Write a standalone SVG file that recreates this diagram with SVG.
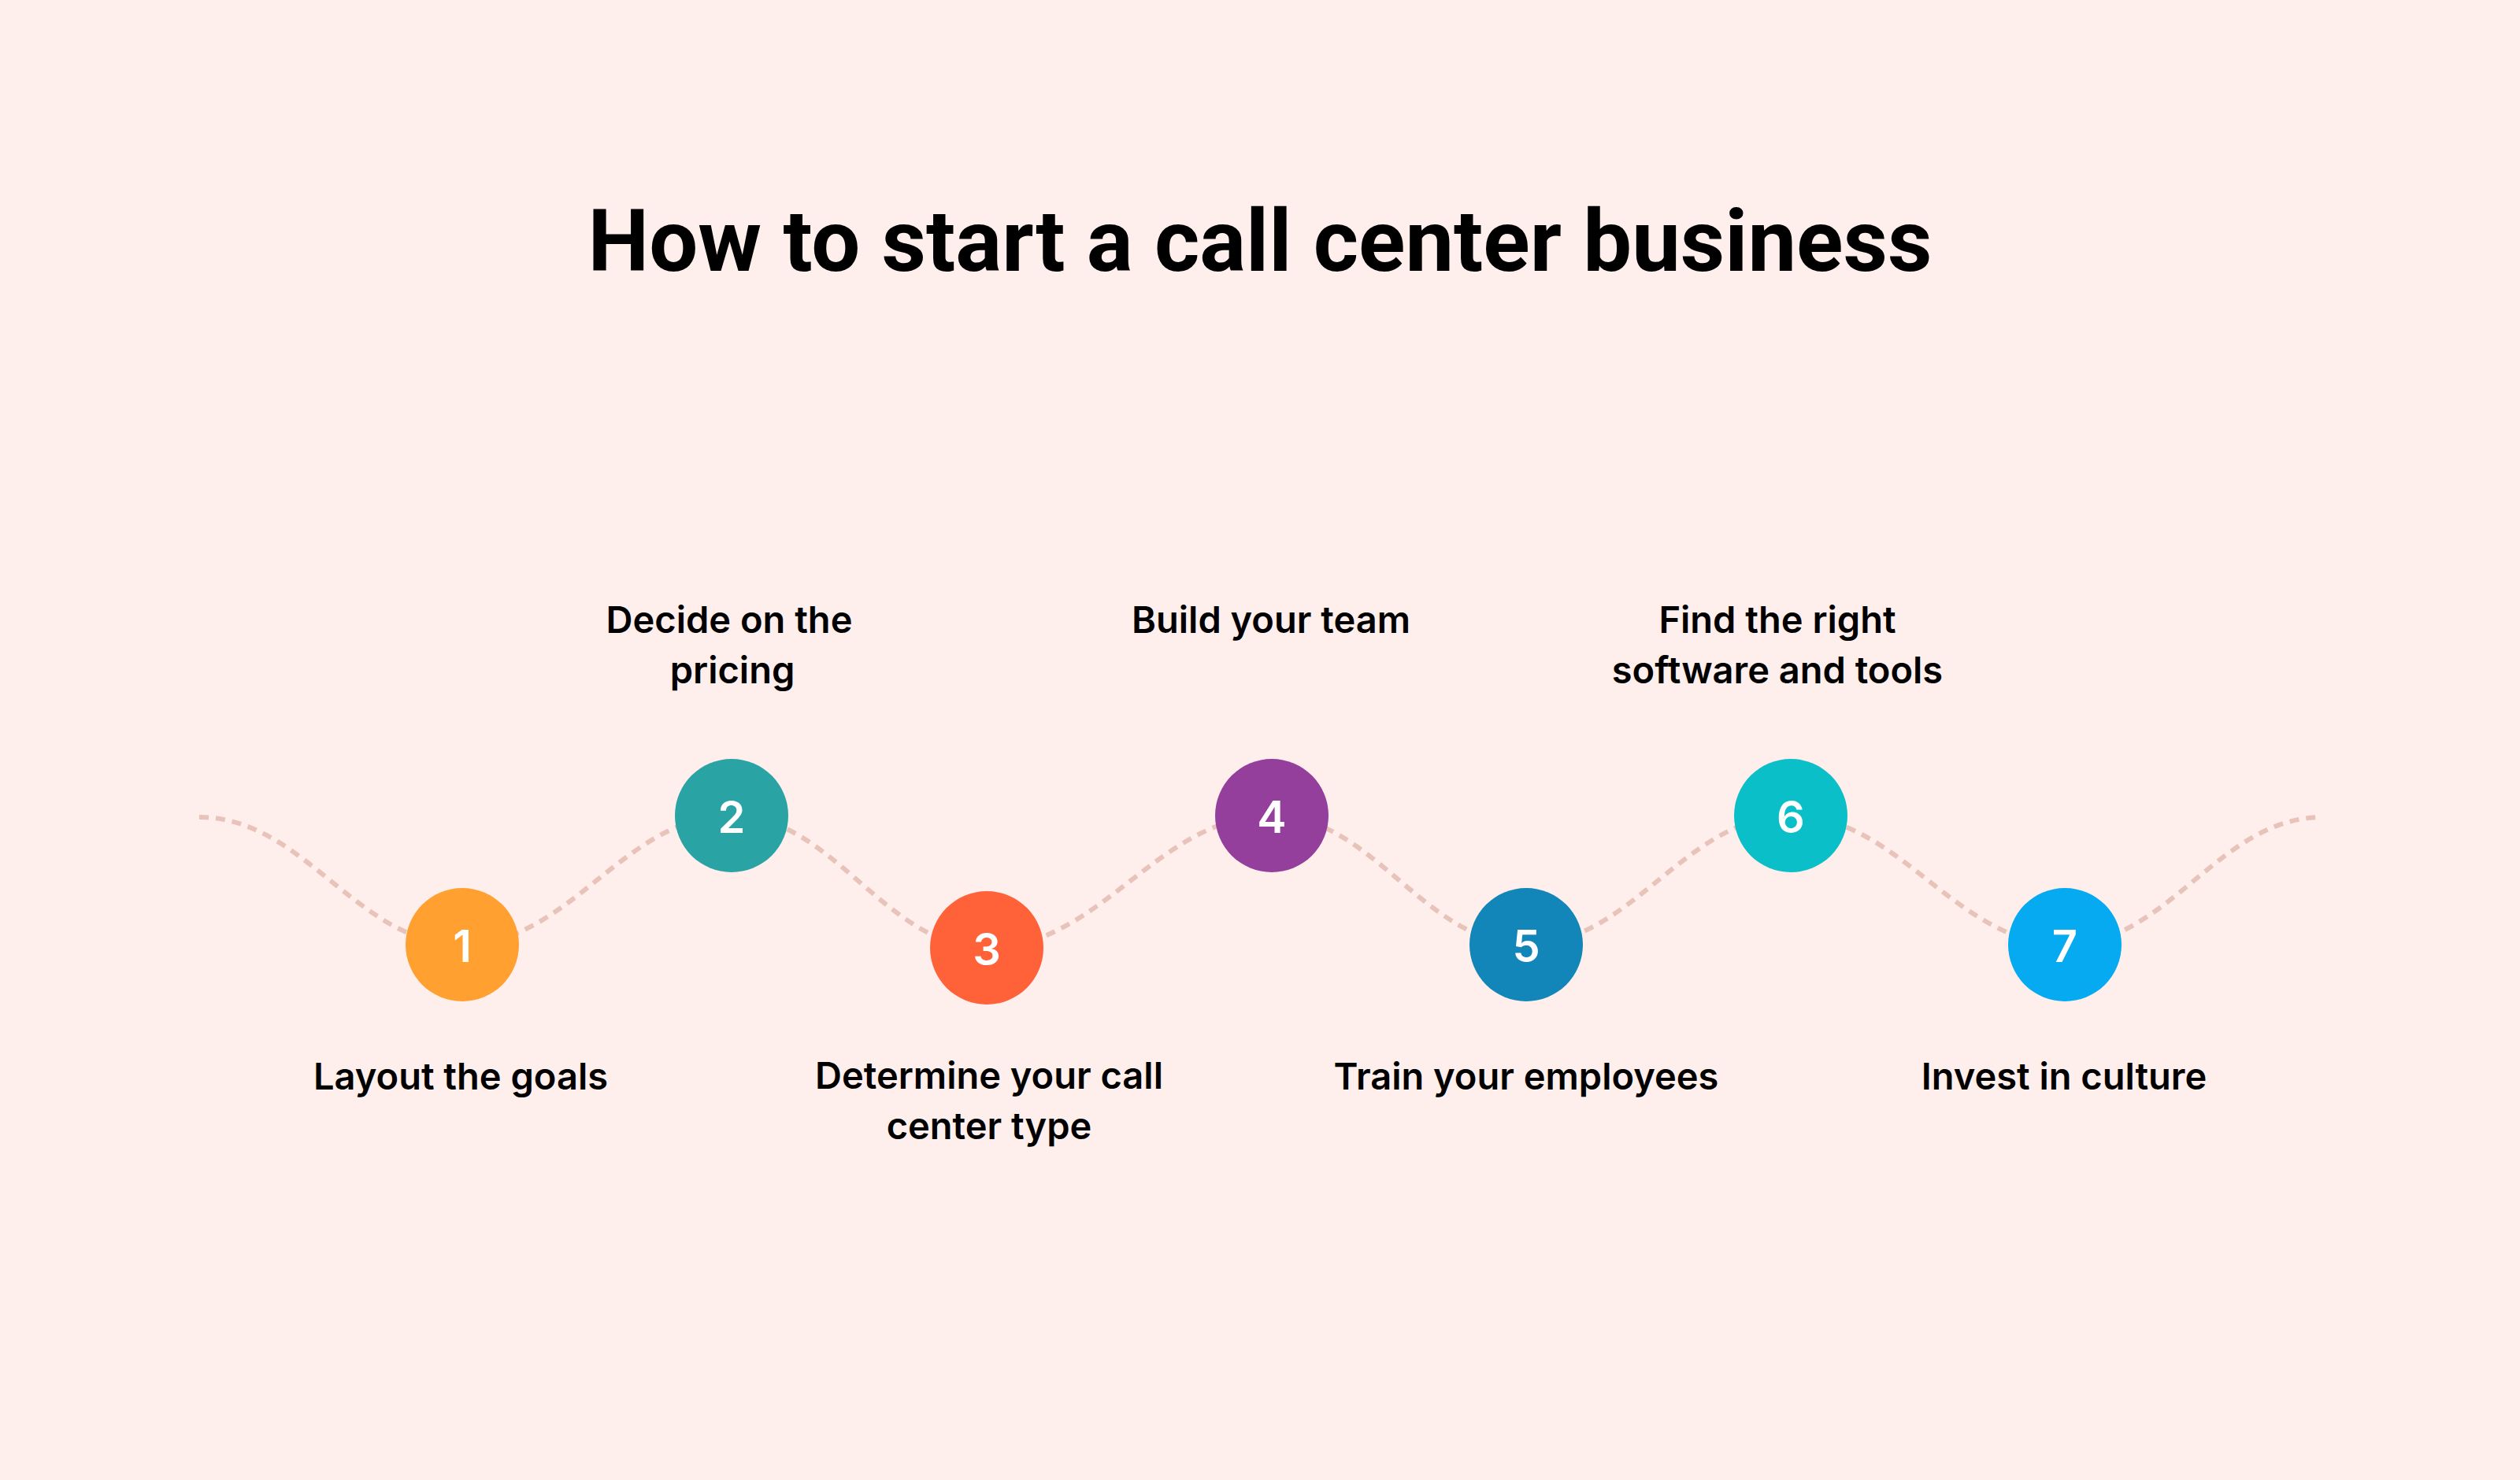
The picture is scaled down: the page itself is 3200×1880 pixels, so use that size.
<svg xmlns="http://www.w3.org/2000/svg" width="3200" height="1880" viewBox="0 0 3200 1880">
<style>
.title{font-family:Roboto,"Liberation Sans",sans-serif;font-weight:700;font-size:110px;fill:#000;text-anchor:middle}
.lbl{font-family:Inter,"Liberation Sans",sans-serif;font-weight:600;font-size:47px;fill:#000;text-anchor:middle}
.num{font-family:Inter,"Liberation Sans",sans-serif;font-weight:600;font-size:56px;fill:#fff;text-anchor:middle}
.wave{fill:none;stroke:#E8C3BA;stroke-width:6;stroke-dasharray:12 9}
</style>
<rect width="3200" height="1880" fill="#FFEFEC"/>
<text class="title" x="1600" y="344">How to start a call center business</text>
<g id="connectors">
<path class="wave" d="M253 1038 C387 1038 453 1200 587 1200 C724 1200 792 1036 929 1036 C1059 1036 1123 1204 1253 1204 C1398 1204 1470 1036 1615 1036 C1744 1036 1809 1200 1938 1200 C2072 1200 2140 1036 2274 1036 C2413 1036 2483 1200 2622 1200 C2753 1200 2818 1038 2949 1038"/>
</g>
<g id="step1">
<circle cx="587" cy="1200" r="72" fill="#FFA030"/>
<text class="num" x="587" y="1222">1</text>
<text class="lbl" x="585" y="1384">Layout the goals</text>
</g>
<g id="step2">
<circle cx="929" cy="1036" r="72" fill="#2AA3A5"/>
<text class="num" x="929" y="1058">2</text>
<text class="lbl" x="926" y="804">Decide on the</text>
<text class="lbl" x="930" y="868">pricing</text>
</g>
<g id="step3">
<circle cx="1253" cy="1204" r="72" fill="#FF6139"/>
<text class="num" x="1253" y="1226">3</text>
<text class="lbl" x="1256" y="1383">Determine your call</text>
<text class="lbl" x="1256" y="1447">center type</text>
</g>
<g id="step4">
<circle cx="1615" cy="1036" r="72" fill="#933F9B"/>
<text class="num" x="1615" y="1058">4</text>
<text class="lbl" x="1614" y="804">Build your team</text>
</g>
<g id="step5">
<circle cx="1938" cy="1200" r="72" fill="#1285B9"/>
<text class="num" x="1938" y="1222">5</text>
<text class="lbl" x="1938" y="1384">Train your employees</text>
</g>
<g id="step6">
<circle cx="2274" cy="1036" r="72" fill="#0BBFC8"/>
<text class="num" x="2274" y="1058">6</text>
<text class="lbl" x="2257" y="804">Find the right</text>
<text class="lbl" x="2257" y="868">software and tools</text>
</g>
<g id="step7">
<circle cx="2622" cy="1200" r="72" fill="#05AAF1"/>
<text class="num" x="2622" y="1222">7</text>
<text class="lbl" x="2621" y="1384">Invest in culture</text>
</g>
</svg>
